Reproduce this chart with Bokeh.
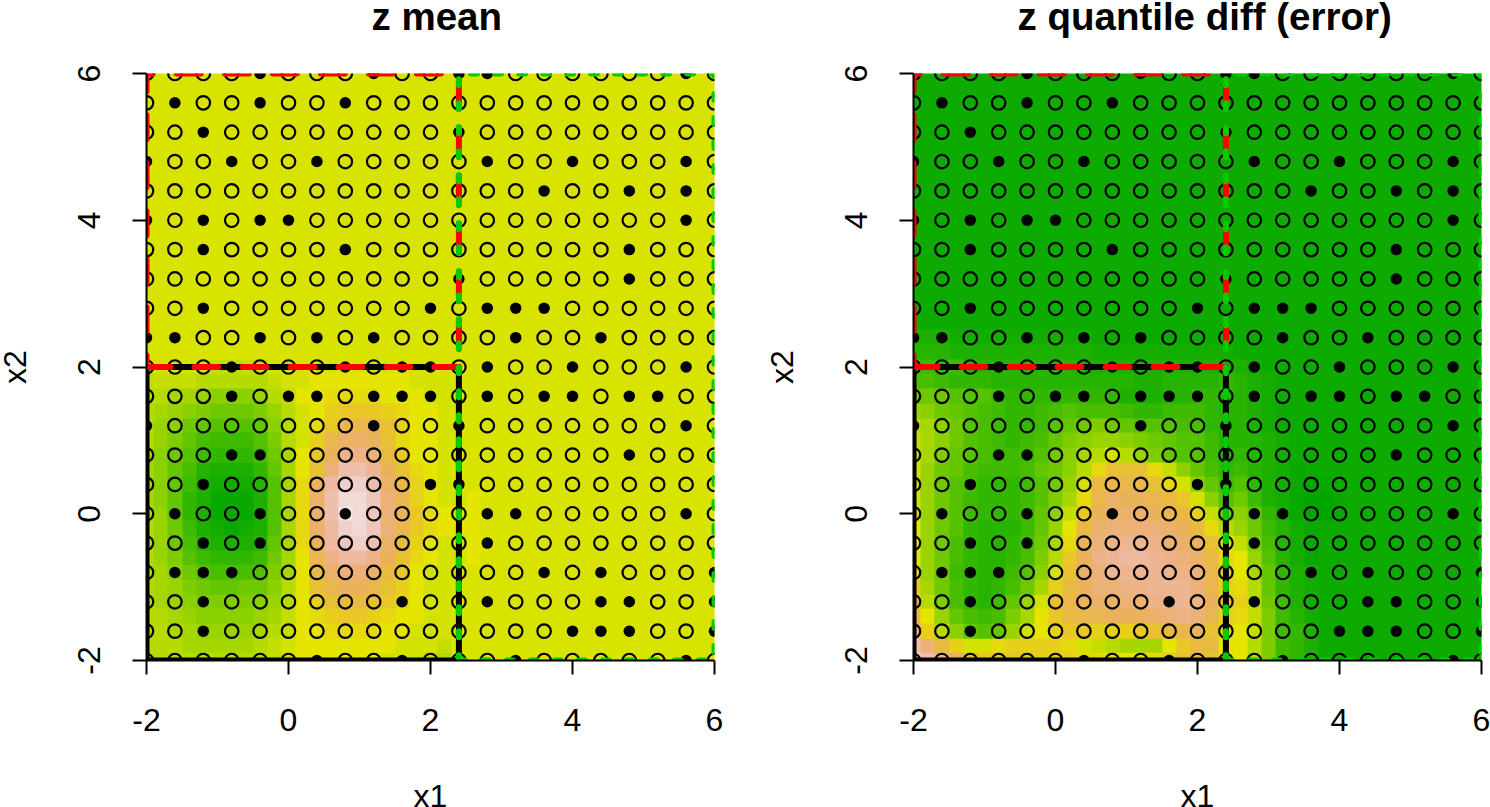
import colorsys
import numpy as np
from bokeh.embed import file_html
from bokeh.resources import INLINE
from bokeh.layouts import row
from bokeh.plotting import figure
from bokeh.models import LinearColorMapper, FixedTicker

x_grid = [-2, -1.6, -1.2, -0.8, -0.4, 0, 0.4, 0.8, 1.2, 1.6, 2, 2.4, 2.8, 3.2, 3.6, 4, 4.4, 4.8, 5.2, 5.6, 6]
y_grid = [-2, -1.6, -1.2, -0.8, -0.4, 0, 0.4, 0.8, 1.2, 1.6, 2, 2.4, 2.8, 3.2, 3.6, 4, 4.4, 4.8, 5.2, 5.6, 6]
ticks = [-2, 0, 2, 4, 6]
tick_labels = {-2: "-2", 0: "0", 2: "2", 4: "4", 6: "6"}

# column positions (index in x_grid) of the solid dots, per row of y_grid, bottom to top
solid_cols = [
    [6, 9, 13, 19],
    [2, 15, 16, 17, 20],
    [2, 9, 12, 16, 17, 20],
    [1, 2, 3, 14, 16, 20],
    [2, 4, 12],
    [1, 4, 7, 12, 13, 19],
    [2, 10, 11],
    [3, 4, 17],
    [0, 8, 11, 19],
    [3, 5, 6, 8, 9, 10, 12, 14, 15, 17, 18],
    [3, 7, 9, 10, 12, 15, 19],
    [0, 1, 4, 6, 8, 13, 16],
    [2, 10, 12, 13, 14],
    [11, 17],
    [2, 7, 17],
    [0, 2, 4, 5, 19],
    [14, 17, 19],
    [0, 3, 6, 12, 15, 19],
    [2, 11],
    [1, 4, 7],
    [4, 8, 11, 12, 19],
]

# colour levels of the surface: 0 green, 18 yellow, 27 tan, 36 white; cell rows bottom to top
mean_head = [
    [15,15,15,15,15,15,15,15,16,16,17,18,18,18,18,18,18,17,17,17,16,15],
    [15,15,15,14,14,14,14,14,15,16,17,18,18,18,18,18,18,18,17,17,17,16],
    [15,15,14,14,13,13,13,13,14,15,16,18,18,19,19,19,19,18,18,17,17,17],
    [15,15,14,13,12,12,12,12,13,14,16,18,19,20,21,21,20,19,18,18,17,17],
    [15,14,13,12,11,11,11,11,12,13,15,18,20,22,23,23,22,21,19,18,17,17],
    [15,14,13,11,10,9,9,10,10,12,15,18,22,24,25,25,24,22,20,18,17,17],
    [15,14,12,10,8,7,7,7,8,11,14,18,23,26,27,27,26,23,21,18,17,17],
    [15,13,11,8,6,5,5,5,6,10,14,18,24,28,30,30,28,25,22,19,18,17,17,18],
    [15,13,10,7,4,3,3,3,4,9,14,19,25,30,32,33,31,26,23,20,18,17,17,18],
    [15,13,10,6,3,2,1,2,3,8,14,19,26,30,33,34,32,27,24,21,19,18,18,18],
    [15,13,9,5,3,1,1,1,3,8,14,19,26,31,35,34,32,27,25,21,19,18,18,18],
    [14,12,9,5,3,1,1,1,3,8,14,19,26,31,34,34,32,27,24,20,18,17,17,18],
    [14,12,9,6,3,2,2,2,4,8,14,19,25,30,33,33,31,26,23,20,18,17],
    [14,12,9,7,4,3,3,3,5,9,14,18,22,27,31,31,29,25,22,19,18,17],
    [14,12,10,8,6,5,5,5,7,10,14,18,21,25,28,28,27,23,21,18,18,17],
    [15,13,11,9,7,6,6,6,8,11,15,17,20,24,26,26,25,22,19,18,18,17],
    [15,13,12,10,9,8,8,8,9,12,15,17,19,21,24,24,24,22,20,18,18,17],
    [15,14,13,12,11,10,10,10,11,13,15,17,18,20,21,21,21,20,19,18,18,17],
    [15,15,14,14,13,12,12,12,13,15,16,18,18,19,19,19,19,18,18,18,17,17],
    [16,16,16,16,15,15,15,15,15,16,17,17,18,18,18,18,18,18,18,17,17,17],
    [17,17,17,17,17,16,16,16,16,17,17],
]
mean_fill = 17.2

diff_head = [
    [33,31,28,25,22,21,21,21,20,20,20,20,19,19,19,18,18,19,21,22,23,22,19,18,15,11,6,5,3],
    [31,27,23,20,17,17,19,20,20,20,20,19,17,16,15,14,14,14,18,21,23,23,18,18,15,11,6,5,3],
    [27,20,15,12,9,8,9,13,17,18,20,21,21,20,20,20,21,22,23,24,25,22,19,18,16,11,6,5,3],
    [24,18,13,9,7,6,7,11,14,18,21,23,24,24,25,25,25,26,27,28,27,24,20,19,16,11,6,4,2],
    [23,15,11,7,5,4,6,9,13,17,22,24,25,26,26,27,27,28,29,29,28,25,21,20,15,10,6,3,2],
    [21,14,10,7,5,4,5,7,10,14,20,23,25,27,27,28,28,29,29,29,27,24,20,19,15,9,5,3,2],
    [19,13,10,6,5,4,4,6,8,12,17,22,26,27,29,29,29,29,29,28,27,24,20,18,14,9,5,3,2],
    [18,13,10,7,5,4,4,5,7,11,15,21,25,28,29,30,30,29,28,27,26,23,19,18,13,8,4,2,1],
    [18,13,10,7,5,4,4,5,7,10,14,19,25,27,28,29,29,28,27,26,25,22,18,16,11,7,4,2,1],
    [18,13,10,8,5,4,4,4,6,9,13,18,23,26,27,27,27,27,26,25,23,19,15,13,10,6,4,2,1],
    [17,13,10,8,6,5,5,5,6,9,12,16,21,25,26,26,26,25,24,23,20,16,11,12,9,5,3,1,0,0,1],
    [17,13,10,8,6,5,5,5,6,8,11,14,19,24,26,25,25,24,23,21,17,12,8,10,6,3,2,1,0,0,1],
    [17,13,10,8,7,5,5,5,6,8,10,13,17,23,24,24,24,22,19,17,12,9,6,8,5,3,2,1,0,1],
    [17,13,10,9,7,6,6,6,7,9,10,12,15,19,22,22,22,19,16,12,9,7,5,6,4,3,2,1],
    [16,14,11,9,8,7,6,6,6,8,10,12,14,15,17,15,13,11,9,8,8,6,4,5,4,3,2,1.5],
    [16,14,12,10,8,7,6,5,6,7,9,11,12,13,13,12,11,10,9,8,8,6,4,4,4,3,2,1.5],
    [15,14,12,10,8,7,6,5,5,6,8,9,10,11,10,9,8,8,8,7,7,5,4,4,3,2,1.5],
    [13,12,10,9,8,7,6,5,5,6,7,8,7,7,7,6,5,5,6,6,6,5,4,4,3,2,1.5],
    [10,10,10,8,8,8,6,5,5,5,5,5,5,5,5,3,3,3,4,4,5,5,5,4,3,2,1.5],
    [7,7,6,5,5,5,4,4,4,4,4,4,4,4,4,4,3,3,4,4,4,4,5,4,3,2,1.5],
    [6,6,6,6,4,4,4,4,4,4,4,4,3,3,3,3,3,3,3,3,3,3,3,3,2,1.5],
    [4,4,4,3,3,3,3,3,3,3,3,3,3,2,2,2,2,2,2,2,2,2,2,1.5],
    [3,3,3,2,2,2,2,2,2,2,2,2,2,1.5],
]
diff_fill = 1.5
CELLS = 41


def surface(head, fill):
    rows = [r + [fill] * (CELLS - len(r)) for r in head]
    rows += [[fill] * CELLS for _ in range(CELLS - len(rows))]
    return np.array(rows, dtype=float)


def terrain(n=256):
    out = []
    for k in range(n):
        t = k / (n - 1)
        if t <= 0.5:
            f = t / 0.5
            h, s, v = 1 / 3 - f / 6, 1.0, 0.65 + 0.25 * f
        else:
            f = (t - 0.5) / 0.5
            h, s, v = 1 / 6 - f / 6, 1.0 - f, 0.90 + 0.05 * f
        r, g, b = colorsys.hsv_to_rgb(h, s, v)
        out.append("#%02x%02x%02x" % (round(r * 255), round(g * 255), round(b * 255)))
    return out


palette = terrain()
sx, sy, ox, oy = [], [], [], []
for j, yv in enumerate(y_grid):
    for i, xv in enumerate(x_grid):
        if i in solid_cols[j]:
            sx.append(xv); sy.append(yv)
        else:
            ox.append(xv); oy.append(yv)

FONT = "Liberation Sans"


def panel(title, z, left, right, title_offset):
    p = figure(frame_width=568, frame_height=587, x_range=(-2, 6), y_range=(-2, 6),
               output_backend="svg", toolbar_location=None, tools="",
               min_border_left=left, min_border_right=right,
               min_border_top=10, min_border_bottom=146,
               background_fill_color="white", outline_line_color=None)
    p.grid.visible = False
    p.image(image=[z], x=-2.1, y=-2.1, dw=8.2, dh=8.2,
            color_mapper=LinearColorMapper(palette=palette, low=0, high=36))
    p.scatter(ox, oy, size=13.5, fill_color=None, line_color="black", line_width=2.2)
    p.scatter(sx, sy, size=11.5, fill_color="black", line_color=None)
    p.line([-2, 2.4, 2.4, -2, -2], [-2, -2, 2, 2, -2], line_color="black", line_width=6,
           line_join="round", line_cap="round")
    p.line([-2, 2.4, 2.4, -2, -2], [2, 2, 6, 6, 2], line_color="#ff0000", line_width=6,
           line_dash="24 24", line_join="round", line_cap="round")
    p.line([2.4, 6, 6, 2.4, 2.4], [-2, -2, 6, 6, -2], line_color="#00cd00", line_width=6,
           line_dash="6 18", line_join="round", line_cap="round")

    p.title.text = title
    p.title.align = "left"
    p.title.offset = title_offset
    p.title.text_font = FONT
    p.title.text_font_style = "bold"
    p.title.text_font_size = "38.5px"
    p.title.text_color = "black"
    p.title.standoff = 72

    for ax, lab in ((p.xaxis[0], "x1"), (p.yaxis[0], "x2")):
        ax.ticker = FixedTicker(ticks=ticks)
        ax.major_label_overrides = tick_labels
        ax.axis_label = lab
        ax.axis_label_text_font = FONT
        ax.axis_label_text_font_style = "normal"
        ax.axis_label_text_font_size = "32px"
        ax.axis_label_text_color = "black"
        ax.major_label_text_font = FONT
        ax.major_label_text_font_size = "32px"
        ax.major_label_text_color = "black"
        ax.axis_line_color = "black"
        ax.axis_line_width = 2
        ax.major_tick_line_color = "black"
        ax.major_tick_line_width = 2
        ax.major_tick_in = 0
        ax.major_tick_out = 14
        ax.minor_tick_line_color = None
    p.xaxis[0].major_label_standoff = 34
    p.xaxis[0].axis_label_standoff = 44
    p.yaxis[0].major_label_orientation = "vertical"
    p.yaxis[0].major_label_standoff = 33
    p.yaxis[0].axis_label_standoff = 42
    return p


p1 = panel("z mean", surface(mean_head, mean_fill), 146, 39, 225)
p2 = panel("z quantile diff (error)", surface(diff_head, diff_fill), 160, 9, 104)
open("out.html", "w").write(file_html(row(p1, p2, spacing=0, margin=(-44, 0, -20, -7)), INLINE))
